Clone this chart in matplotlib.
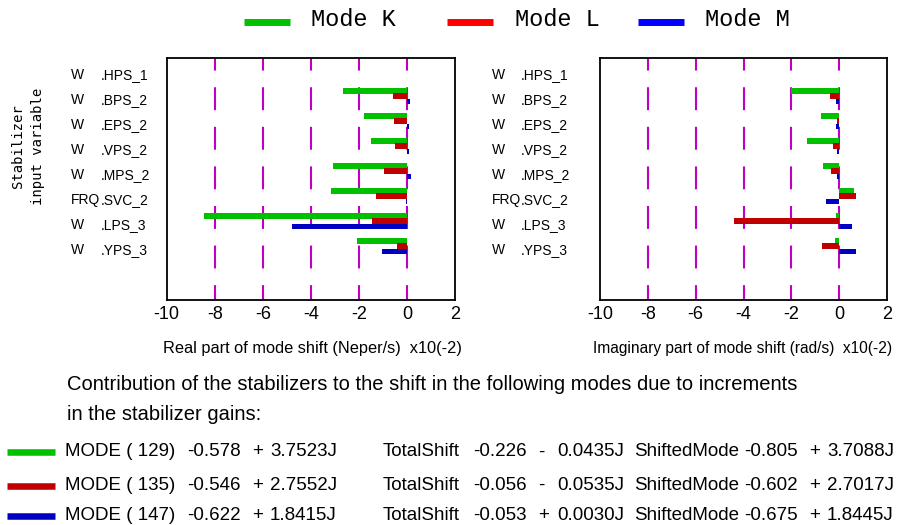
import matplotlib

matplotlib.use("Agg")

import numpy as np
from matplotlib import pyplot as plt
from matplotlib.lines import Line2D

plt.rcParams["font.family"] = "Liberation Sans"
plt.rcParams["axes.unicode_minus"] = False
plt.rcParams["lines.scale_dashes"] = False

W, H = 897, 525

# stabilizer rows, top to bottom
input_signals = ["W", "W", "W", "W", "W", "FRQ", "W", "W"]
stabilizers = [".HPS_1", ".BPS_2", ".EPS_2", ".VPS_2", ".MPS_2", ".SVC_2", ".LPS_3", ".YPS_3"]

mode_names = ["Mode K", "Mode L", "Mode M"]

# real part of mode shift, x10(-2) Neper/s
real_k = [0.0, -2.65, -1.78, -1.49, -3.07, -3.15, -8.44, -2.07]
real_l = [0.0, -0.57, -0.53, -0.49, -0.95, -1.28, -1.44, -0.40]
real_m = [0.0, 0.14, 0.10, 0.10, 0.18, -0.03, -4.78, -1.03]

# imaginary part of mode shift, x10(-2) rad/s
imag_k = [0.0, -2.00, -0.75, -1.34, -0.67, 0.63, -0.13, -0.17]
imag_l = [0.0, -0.38, -0.08, -0.25, -0.34, 0.71, -4.39, -0.71]
imag_m = [0.0, -0.13, -0.13, -0.08, -0.08, -0.54, 0.54, 0.71]

# mode summary table
mode_ids = [129, 135, 147]
mode_re = [-0.578, -0.546, -0.622]
mode_im = [3.7523, 2.7552, 1.8415]
total_re = [-0.226, -0.056, -0.053]
total_im = [-0.0435, -0.0535, 0.0030]
shifted_re = [-0.805, -0.602, -0.675]
shifted_im = [3.7088, 2.7017, 1.8445]

x_ticks = [-10, -8, -6, -4, -2, 0, 2]
grid_x = [-8, -6, -4, -2, 0]

BAR_COLOURS = ["#00c000", "#c00000", "#0000c0"]
LEGEND_COLOURS = ["#00c000", "#ff0000", "#0000ff"]
MAGENTA = "#c000c0"
BAR_OFFSETS = [-0.325, -0.115, 0.095]


def fx(x):
    return x / W


def fy(y):
    return 1 - y / H


def pixel_axes(fig, left, top, right, bottom):
    return fig.add_axes([fx(left), fy(bottom), (right - left) / W, (bottom - top) / H])


def draw_panel(ax, series, col1_px, col2_px):
    rows = np.arange(1, len(stabilizers) + 1)
    for x in grid_x:
        ax.axvline(x, color=MAGENTA, lw=1.5, linestyle=(5.8, (16.5, 12.0)), zorder=1)
    for offset, values, colour in zip(BAR_OFFSETS, series, BAR_COLOURS):
        ax.barh(rows + offset, values, height=0.22, color=colour, zorder=2, linewidth=0)
    ax.set_xlim(-10, 2)
    ax.set_ylim(10.04, 0.35)
    ax.set_xticks(x_ticks)
    ax.set_xticklabels([str(t) for t in x_ticks])
    ax.tick_params(axis="x", length=0, pad=4, labelsize=13)
    ax.set_yticks([])
    for spine in ax.spines.values():
        spine.set_linewidth(1.3)
    # row labels sit left of the frame: signal name, then stabilizer name,
    # sharing one baseline per row
    left_px = ax.get_position().x0 * W
    width_px = ax.get_position().width * W
    trans = ax.get_yaxis_transform()
    for row, signal, name in zip(rows, input_signals, stabilizers):
        ax.text((col1_px - left_px) / width_px, row + 0.2, signal, transform=trans,
                ha="left", va="baseline", fontsize=10)
        ax.text((col2_px - left_px) / width_px, row + 0.2, name, transform=trans,
                ha="left", va="baseline", fontsize=10)


fig = plt.figure(figsize=(W / 100, H / 100), dpi=100)

ax_real = pixel_axes(fig, 166.7, 57.7, 455, 300)
ax_imag = pixel_axes(fig, 600, 57.7, 887, 300)

draw_panel(ax_real, [real_k, real_l, real_m], 71, 101)
draw_panel(ax_imag, [imag_k, imag_l, imag_m], 492, 521)

fig.text(fx(312), fy(349), "Real part of mode shift (Neper/s)  x10(-2)",
         ha="center", va="center", fontsize=11.8)
fig.text(fx(743), fy(349), "Imaginary part of mode shift (rad/s)  x10(-2)",
         ha="center", va="center", fontsize=11.2)

fig.text(fx(28), fy(146), "Stabilizer\ninput variable", rotation=90,
         ha="center", va="center", multialignment="center",
         family="DejaVu Sans Mono", fontsize=10, linespacing=1.6)

# legend along the top
legend_line_x = [(244, 290), (447, 493), (638, 684)]
legend_text_x = [311, 515, 705]
for (x0, x1), tx, name, colour in zip(legend_line_x, legend_text_x, mode_names, LEGEND_COLOURS):
    fig.add_artist(Line2D([fx(x0), fx(x1)], [fy(22), fy(22)], transform=fig.transFigure,
                          color=colour, lw=5, solid_capstyle="butt"))
    fig.text(fx(tx), fy(20), name, ha="left", va="center",
             family="Liberation Mono", fontsize=17)

fig.text(fx(67), fy(384),
         "Contribution of the stabilizers to the shift in the following modes due to increments",
         ha="left", va="center", fontsize=14.5)
fig.text(fx(67), fy(414), "in the stabilizer gains:", ha="left", va="center", fontsize=14.5)


def split_complex(re, im):
    sign = "+" if im >= 0 else "-"
    return [f"{re:.3f}", sign, f"{abs(im):.4f}J"]


token_x = [65, 187, 252, 270, 383, 473, 538, 557, 634, 744, 809, 827]
row_y = [452, 485.5, 515.5]
for i, y in enumerate(row_y):
    fig.add_artist(Line2D([fx(7), fx(55)], [fy(y), fy(y)], transform=fig.transFigure,
                          color=BAR_COLOURS[i], lw=4.7, solid_capstyle="butt"))
    tokens = [f"MODE ( {mode_ids[i]})"]
    tokens += split_complex(mode_re[i], mode_im[i])
    tokens += ["TotalShift"] + split_complex(total_re[i], total_im[i])
    tokens += ["ShiftedMode"] + split_complex(shifted_re[i], shifted_im[i])
    for x, tok in zip(token_x, tokens):
        fig.text(fx(x), fy(y), tok, ha="left", va="center", fontsize=13.5)

fig.savefig("out.png", dpi=100)
